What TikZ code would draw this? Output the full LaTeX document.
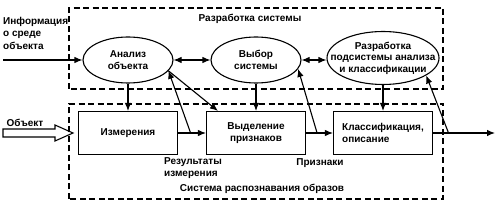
\documentclass[tikz,border=0pt]{standalone}
\usepackage{fontspec}
\setmainfont{Liberation Sans}
\usetikzlibrary{shapes.geometric, arrows.meta, positioning, calc}

\begin{document}
\begin{tikzpicture}[x=1pt, y=1pt, >={Latex[length=8pt,width=6.5pt]}, font=\fontsize{10}{11.5}\selectfont\bfseries]
    % Styles
    \tikzstyle{oval} = [ellipse, draw, line width=1.1pt, minimum width=90pt, minimum height=46pt, inner sep=0pt]
    \tikzstyle{block} = [rectangle, draw, line width=1.1pt, minimum width=99pt, minimum height=43pt, align=center]
    \tikzstyle{line} = [draw, ->, line width=1.1pt]
    \tikzstyle{dline} = [draw, <->, line width=1.1pt]
    \tikzstyle{frame} = [draw, line width=1.1pt, dash pattern=on 6pt off 3.5pt]
    \tikzstyle{lbl} = [inner sep=0pt, align=left]

    \useasboundingbox (0,0) rectangle (500,203);

    % Frames
    \path [frame] (69,114) rectangle (443,195);
    \path [frame] (69,4) rectangle (443,99);
    \node [lbl] (devlbl) at (250,184) {Разработка системы};
    \node [lbl] (reclbl) at (262,14) {Система распознавания образов};

    % Nodes
    \node [oval, label={[align=center]center:Анализ\\объекта}] (ana) at (128,143) {};
    \node [oval, right of=ana, node distance=128pt, label={[align=center]center:Выбор\\системы}] (vyb) {};
    \node [oval, right of=vyb, node distance=127pt, yshift=2pt, minimum width=112pt, minimum height=53pt,
           label={[align=center]center:Разработка\\подсистемы анализа\\и классификации}] (razr) {};
    \node [block, below of=ana, node distance=73pt] (izm) {Измерения};
    \node [block, right of=izm, node distance=128pt] (vyd) {Выделение\\признаков};
    \node [block, right of=vyd, node distance=127pt, align=left] (klass) {Классификация,\\описание};

    % Texts
    \node [lbl, anchor=west, font=\fontsize{10}{12.5}\selectfont\bfseries] (info) at (3,170) {Информация\\о среде\\объекта};
    \node [lbl] (objlbl) at (25,80) {Объект};
    \node [lbl, anchor=west] (reslbl) at (164,35) {Результаты\\измерения};
    \node [lbl] (prlbl) at (320,40) {Признаки};

    % Points
    \coordinate (src) at (3,143);
    \coordinate (out) at (495,70);
    \coordinate (fb1) at ($(izm.east)!0.45!(vyd.west)$);
    \coordinate (fb2) at ($(vyd.east)!0.41!(klass.west)$);
    \coordinate (fb3) at ($(klass.east)!0.25!(out)$);

    % Paths
    \path [line] (src) -- (ana);
    \path [dline] (ana) -- (vyb);
    \path [dline] (vyb) -- (vyb -| razr.west);
    \path [line] (ana) -- (izm);
    \path [line] (vyb) -- (vyd);
    \path [line] (razr) -- (klass);
    \path [line] (izm) -- (vyd);
    \path [line] (vyd) -- (klass);
    \path [line] (klass) -- (out);
    \path [line] (fb1) -- (ana.-15);
    \path [line] (ana.-15) -- ([xshift=12pt]vyd.north west);
    \path [line] (fb2) -- (vyb.-12);
    \path [line] (fb3) -- (razr.-22);

    % Object arrow
    \draw [line width=1.1pt] (3,74) -- (55,74) -- (55,78) -- (73,70) -- (55,62) -- (55,66) -- (3,66) -- cycle;
\end{tikzpicture}
\end{document}
